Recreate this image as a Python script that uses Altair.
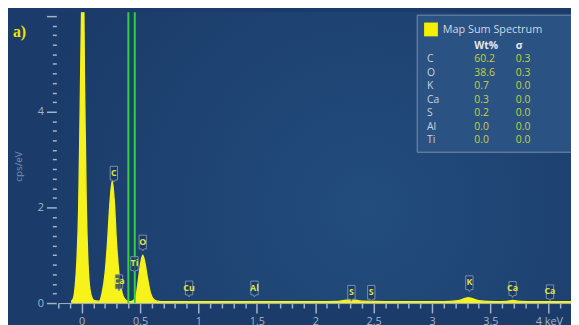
import altair as alt
import pandas as pd

# ---- spectrum (keV, cps/eV) ----
energy = [-0.09, -0.07, -0.055, -0.04, -0.025, -0.01, 0.005, 0.012, 0.025, 0.04, 0.055, 0.07, 0.09, 0.11, 0.14,
          0.15, 0.175, 0.2, 0.222, 0.24, 0.262, 0.28, 0.298, 0.32, 0.345, 0.37, 0.39,
          0.42, 0.45, 0.47, 0.487, 0.505, 0.523, 0.54, 0.565, 0.59, 0.62, 0.66,
          0.7, 1.0, 1.5, 2.0, 2.2, 2.31, 2.4, 2.6, 3.1, 3.22, 3.31, 3.4, 3.55, 3.64, 3.69, 3.75, 3.9, 4.19]
counts = [0.03, 0.1, 0.35, 0.9, 2.0, 4.5, 7.0, 7.5, 4.5, 2.0, 0.8, 0.3, 0.1, 0.05, 0.04,
          0.04, 0.2, 0.6, 1.27, 2.0, 2.55, 2.1, 1.27, 0.6, 0.22, 0.08, 0.04,
          0.03, 0.07, 0.2, 0.5, 0.82, 1.0, 0.86, 0.5, 0.2, 0.07, 0.035,
          0.03, 0.03, 0.03, 0.03, 0.035, 0.07, 0.04, 0.03, 0.03, 0.05, 0.11, 0.05, 0.03, 0.035, 0.055, 0.035, 0.03, 0.03]

# ---- peak labels ----
label_names = ["C", "Ca", "Ti", "O", "Cu", "Al", "S", "S", "K", "Ca", "Ca"]
label_kev = [0.276, 0.32, 0.452, 0.523, 0.92, 1.48, 2.31, 2.48, 3.32, 3.69, 4.01]
label_cps = [2.69, 0.42, 0.80, 1.25, 0.29, 0.29, 0.20, 0.20, 0.40, 0.28, 0.21]

# ---- green marker lines ----
marker_kev = [0.40, 0.455]

# ---- quantification table ----
elements = ["C", "O", "K", "Ca", "S", "Al", "Ti"]
wt_pct = ["60.2", "38.6", "0.7", "0.3", "0.2", "0.0", "0.0"]
sigma = ["0.3", "0.3", "0.0", "0.0", "0.0", "0.0", "0.0"]

# ---- axis ticks ----
x_ticks = [round(-0.2 + i * 0.1, 1) for i in range(44)]
y_ticks = [round(i * 0.2, 1) for i in range(31)]

spec = pd.DataFrame({"kev": energy, "cps": counts})
labels = pd.DataFrame({"kev": label_kev, "cps": label_cps, "name": label_names})
markers = pd.DataFrame({"kev": marker_kev})
table = pd.DataFrame({"element": elements, "wt": wt_pct, "sigma": sigma})
one = pd.DataFrame({"k": [0]})

AX = "#a3b4c8"
YEL = "#f6f21a"
LBL = "#dde447"

x_axis = alt.Axis(
    values=x_ticks, format="~g",
    labelExpr="abs(datum.value*2 - round(datum.value*2)) < 0.001 ? (datum.value == 4 ? '4 keV' : datum.label) : ''",
    tickSize={"condition": {"test": "abs(datum.value*2 - round(datum.value*2)) < 0.001", "value": 10}, "value": 5},
    tickColor=AX, tickWidth=1.5, domainColor=AX, labelColor=AX, labelFontSize=11,
    labelPadding=3, labelOverlap=False, labelFlush=False, grid=False, title=None,
    labelFont="Open Sans",
)
y_axis = alt.Axis(
    values=y_ticks, format="~g",
    labelExpr="(abs(datum.value/2 - round(datum.value/2)) < 0.001 && datum.value < 5) ? datum.label : ''",
    tickSize={"condition": {"test": "abs(datum.value/2 - round(datum.value/2)) < 0.001", "value": 10}, "value": 4},
    tickColor=AX, tickWidth=1.5, domain=False, offset=2, labelColor=AX, labelFontSize=11,
    labelPadding=3, labelOverlap=False, grid=False, labelFont="Open Sans",
    title="cps/eV", titleColor="#7d93b2", titleFontSize=10, titleFontWeight="normal",
    titleFont="Open Sans", titleX=-33, titleY=156,
)

xs = alt.Scale(domain=[-0.2, 4.19], nice=False, zero=False)
ys = alt.Scale(domain=[0, 6.08], nice=False, zero=False)
X = alt.X("kev:Q", scale=xs, axis=x_axis)
Y = alt.Y("cps:Q", scale=ys, axis=y_axis)

bg = alt.Chart(one).mark_rect(
    fill={"gradient": "radial",
          "stops": [{"offset": 0, "color": "#224d7d"}, {"offset": 1, "color": "#1a3a68"}],
          "x1": 0.6, "y1": 0.6, "x2": 0.6, "y2": 0.6, "r1": 0, "r2": 0.7}
).encode(x=alt.value(0), x2=alt.value(520), y=alt.value(0), y2=alt.value(295))

area = alt.Chart(spec).mark_area(
    color=YEL, opacity=1, fillOpacity=1, interpolate="monotone", clip=True,
    line={"color": YEL, "strokeWidth": 1.4}
).encode(x=X, y=Y)

rules = alt.Chart(markers).mark_rule(color="#2fd23c", strokeWidth=2).encode(x=X)

box_path = "M-0.45,-1 H0.45 V0.7 H0.14 L0,0.96 L-0.14,0.7 H-0.45 Z"
boxes = alt.Chart(labels).mark_point(
    shape=box_path, size=270, filled=True, fill="#1b3760", fillOpacity=0.75,
    stroke="#7890b0", strokeWidth=1, opacity=1
).encode(x=X, y=Y)

box_text = alt.Chart(labels).mark_text(
    color=LBL, fontSize=9, fontWeight="bold", font="Open Sans", dy=-1.5
).encode(x=X, y=Y, text="name:N")

a_label = alt.Chart(one).mark_text(
    text="a)", color="#f2e400", fontSize=16, fontWeight="bold", font="Liberation Serif",
    align="left", baseline="middle"
).encode(x=alt.value(-46), y=alt.value(20))

spectrum = alt.layer(bg, area, rules, boxes, box_text, a_label)

# ---- legend / table panel ----
panel = alt.Chart(one).mark_rect(
    fill="#2b5484", fillOpacity=0.92, stroke="#7890ad", strokeWidth=1
).encode(x=alt.value(364), x2=alt.value(530), y=alt.value(3), y2=alt.value(142))

swatch = alt.Chart(one).mark_square(size=196, color="#f5f000", opacity=1).encode(
    x=alt.value(378), y=alt.value(17.5))

ptitle = alt.Chart(one).mark_text(
    text="Map Sum Spectrum", color="#d0d8e2", fontSize=11, font="Open Sans",
    align="left", baseline="middle"
).encode(x=alt.value(390), y=alt.value(18))

h1 = alt.Chart(one).mark_text(
    text="Wt%", color="#e2e8ef", fontSize=10.5, fontWeight="bold", font="Open Sans",
    align="left", baseline="middle"
).encode(x=alt.value(422), y=alt.value(34))
h2 = alt.Chart(one).mark_text(
    text="σ", color="#e2e8ef", fontSize=10.5, fontWeight="bold", font="Open Sans",
    align="left", baseline="middle"
).encode(x=alt.value(464), y=alt.value(34))

row_y = alt.Y("element:N", sort=elements, axis=None,
              scale=alt.Scale(type="point", range=[48, 130], padding=0))

col_el = alt.Chart(table).mark_text(
    color="#c9d2de", fontSize=10.5, font="Open Sans", align="left", baseline="middle"
).encode(x=alt.value(374), y=row_y, text="element:N")
col_wt = alt.Chart(table).mark_text(
    color="#c6d23c", fontSize=10.5, font="Open Sans", align="left", baseline="middle"
).encode(x=alt.value(422), y=row_y, text="wt:N")
col_sg = alt.Chart(table).mark_text(
    color="#c6d23c", fontSize=10.5, font="Open Sans", align="left", baseline="middle"
).encode(x=alt.value(464), y=row_y, text="sigma:N")

legend_panel = alt.layer(panel, swatch, ptitle, h1, h2, col_el, col_wt, col_sg)

chart = alt.layer(spectrum, legend_panel).resolve_scale(y="independent").properties(
    width=520, height=295,
    background="#1b3c6a",
    padding={"left": 51, "top": 2, "right": 0, "bottom": 20},
    autosize=alt.AutoSizeParams(type="none"),
).configure_view(stroke=None).configure_axis(labelOverlap=False)

chart.save("out.html", embed_options={"renderer": "svg", "actions": False})
